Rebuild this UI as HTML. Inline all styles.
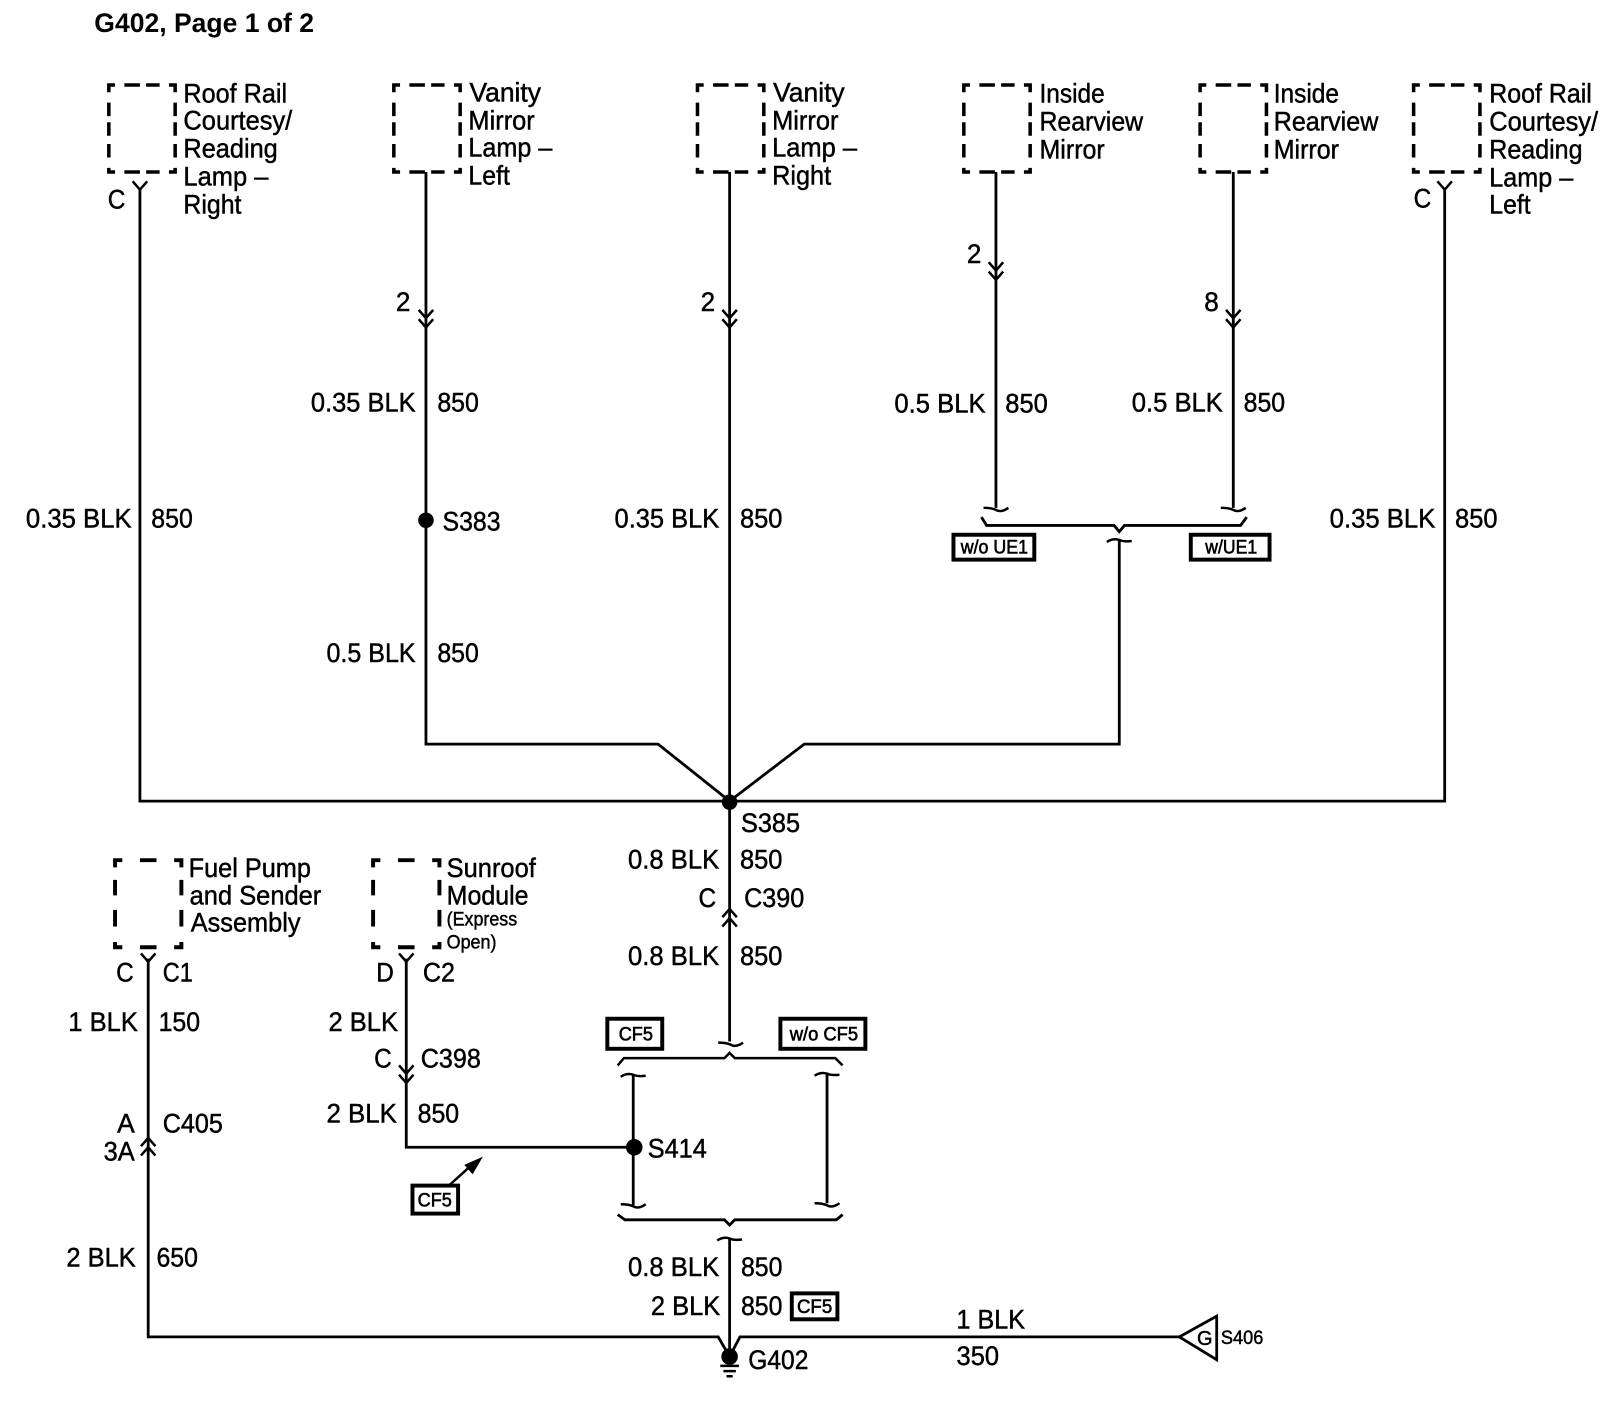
<!DOCTYPE html>
<html><head><meta charset="utf-8"><style>
html,body{margin:0;padding:0;background:#fff;width:1624px;height:1408px;overflow:hidden}
svg{display:block}
text{font-family:"Liberation Sans",sans-serif;font-size:26px;fill:#000;stroke:#000;stroke-width:.45}
.s{font-size:19px}
.t{font-size:19px;stroke-width:.6}
.w{fill:none;stroke:#000;stroke-width:2.7}
.f{fill:none;stroke:#000;stroke-width:2.4}
.b{fill:#fff;stroke:#000;stroke-width:3.8}
</style></head><body>
<svg width="1624" height="1408" viewBox="0 0 1567 1358.6" xmlns="http://www.w3.org/2000/svg">
<defs>
<g id="box" style="stroke-width:3.4;fill:none;stroke:#000">
<path d="M0,7V0H6M15,0H30M36,0H49M58,0H64V7M0,17V30M0,36V49M0,57V70M0,80V84H6M15,84H30M36,84H49M58,84H64V80M64,17V30M64,36V49M64,57V70"/>
</g>
<g id="box2" style="stroke-width:3.8;fill:none;stroke:#000">
<path d="M0,7V0H7M24,0H40M57,0H64V7M0,19V34M0,48V64M0,79V84H7M24,84H40M57,84H64V79M64,19V34M64,48V64"/>
</g>
<path id="dn" class="f" d="M-7,-17L0,-9L7,-17M-7,-8L0,0L7,-8"/>
<path id="up" class="f" d="M-7,17L0,9L7,17M-7,8L0,0L7,8"/>
<path id="y" class="f" d="M-7,-8L0,0L7,-8"/>
<path id="tl" class="f" d="M-12,-1Q-4,-1 0,1Q5,4 12,-1"/>
<path id="tt" class="f" d="M-12,2Q-6,-2 0,0Q4,2 12,1"/>
</defs>

<text x="91" y="31" textLength="212" lengthAdjust="spacingAndGlyphs" style="font-weight:bold;font-size:25.6px;stroke:none">G402, Page 1 of 2</text>

<!-- boxes -->
<use href="#box" x="105" y="82"/><use href="#box" x="380" y="82"/><use href="#box" x="673" y="82"/>
<use href="#box" x="930" y="82"/><use href="#box" x="1158" y="82"/><use href="#box" x="1364" y="82"/>
<use href="#box2" x="111" y="830"/><use href="#box2" x="360" y="830"/>

<!-- wires -->
<path class="w" d="M135,182V773H1394V182"/>
<path class="w" d="M411,166V718H635L704,773"/>
<path class="w" d="M704,166V1005"/>
<path class="w" d="M961,166V490M1190,166V490"/>
<path class="w" d="M1080,520V718H776L704,773"/>
<path class="w" d="M143,925V1290H693L704,1309L714,1290H1138"/>
<path class="w" d="M704,1195V1309"/>
<path class="w" d="M392,925V1107H612"/>
<path class="w" d="M611,1037V1163M798,1035V1161"/>
<path class="f" d="M432,1145L452,1127"/>
<path d="M466,1116L448,1124L456,1133Z"/>

<!-- connectors -->
<use href="#y" x="135" y="183"/><use href="#y" x="1394" y="183"/>
<use href="#y" x="143" y="928"/><use href="#y" x="392" y="928"/>
<use href="#dn" x="411" y="316"/><use href="#dn" x="704" y="316"/>
<use href="#dn" x="961" y="270"/><use href="#dn" x="1190" y="316"/>
<use href="#dn" x="392" y="1045"/>
<use href="#up" x="704" y="877"/><use href="#up" x="143" y="1098"/>

<!-- brackets -->
<use href="#tl" x="961" y="491"/><use href="#tl" x="1190" y="491"/>
<path class="w" d="M947,499L952,507H1075L1080,513L1085,507H1197L1203,499"/>
<use href="#tt" x="1080" y="521"/>
<use href="#tl" x="705" y="1007"/>
<path class="f" d="M596,1028L602,1021H699L704,1016L709,1021H806L813,1028"/>
<use href="#tt" x="611" y="1037"/><use href="#tt" x="798" y="1036"/>
<use href="#tl" x="611" y="1163"/><use href="#tl" x="798" y="1162"/>
<path class="w" d="M596,1172L603,1177H699L704,1182L709,1177H807L813,1172"/>
<use href="#tt" x="704" y="1195"/>

<!-- dots -->
<circle cx="411" cy="502" r="7.5"/><circle cx="704" cy="774" r="7.5"/>
<circle cx="612" cy="1107" r="8"/><circle cx="704" cy="1309" r="8"/>
<path class="f" d="M695,1318H713M698,1323H710M701,1328H707"/>
<path class="w" d="M1138,1290L1174,1270V1312Z" style="fill:#fff"/>

<!-- tags -->
<rect class="b" x="920" y="516" width="78" height="24"/>
<rect class="b" x="1149" y="516" width="76" height="24"/>
<rect class="b" x="586" y="983" width="53" height="29"/>
<rect class="b" x="753" y="983" width="82" height="29"/>
<rect class="b" x="398" y="1144" width="44" height="27"/>
<rect class="b" x="764" y="1248" width="44" height="25"/>

<text class="t" x="927" y="534" textLength="65" lengthAdjust="spacingAndGlyphs">w/o UE1</text>
<text class="t" x="1163" y="534" textLength="50" lengthAdjust="spacingAndGlyphs">w/UE1</text>
<text class="t" x="597" y="1004" textLength="33" lengthAdjust="spacingAndGlyphs">CF5</text>
<text class="t" x="762" y="1004" textLength="66" lengthAdjust="spacingAndGlyphs">w/o CF5</text>
<text class="t" x="403" y="1164" textLength="33" lengthAdjust="spacingAndGlyphs">CF5</text>
<text class="t" x="769" y="1267" textLength="34" lengthAdjust="spacingAndGlyphs">CF5</text>

<!-- component labels -->
<text x="177" y="99" textLength="100" lengthAdjust="spacingAndGlyphs">Roof Rail</text>
<text x="177" y="125" textLength="105" lengthAdjust="spacingAndGlyphs">Courtesy/</text>
<text x="177" y="152" textLength="91" lengthAdjust="spacingAndGlyphs">Reading</text>
<text x="177" y="179" textLength="82" lengthAdjust="spacingAndGlyphs">Lamp –</text>
<text x="177" y="206" textLength="56" lengthAdjust="spacingAndGlyphs">Right</text>
<text x="104" y="201" textLength="17" lengthAdjust="spacingAndGlyphs">C</text>

<text x="453" y="98" textLength="69" lengthAdjust="spacingAndGlyphs">Vanity</text>
<text x="452" y="125" textLength="64" lengthAdjust="spacingAndGlyphs">Mirror</text>
<text x="452" y="151" textLength="81" lengthAdjust="spacingAndGlyphs">Lamp –</text>
<text x="452" y="178" textLength="40" lengthAdjust="spacingAndGlyphs">Left</text>

<text x="746" y="98" textLength="69" lengthAdjust="spacingAndGlyphs">Vanity</text>
<text x="745" y="125" textLength="64" lengthAdjust="spacingAndGlyphs">Mirror</text>
<text x="745" y="151" textLength="82" lengthAdjust="spacingAndGlyphs">Lamp –</text>
<text x="745" y="178" textLength="57" lengthAdjust="spacingAndGlyphs">Right</text>

<text x="1003" y="99" textLength="63" lengthAdjust="spacingAndGlyphs">Inside</text>
<text x="1003" y="126" textLength="100" lengthAdjust="spacingAndGlyphs">Rearview</text>
<text x="1003" y="153" textLength="63" lengthAdjust="spacingAndGlyphs">Mirror</text>

<text x="1229" y="99" textLength="63" lengthAdjust="spacingAndGlyphs">Inside</text>
<text x="1229" y="126" textLength="101" lengthAdjust="spacingAndGlyphs">Rearview</text>
<text x="1229" y="153" textLength="63" lengthAdjust="spacingAndGlyphs">Mirror</text>

<text x="1437" y="99" textLength="99" lengthAdjust="spacingAndGlyphs">Roof Rail</text>
<text x="1437" y="126" textLength="105" lengthAdjust="spacingAndGlyphs">Courtesy/</text>
<text x="1437" y="153" textLength="90" lengthAdjust="spacingAndGlyphs">Reading</text>
<text x="1437" y="180" textLength="81" lengthAdjust="spacingAndGlyphs">Lamp –</text>
<text x="1437" y="206" textLength="40" lengthAdjust="spacingAndGlyphs">Left</text>
<text x="1364" y="200" textLength="17" lengthAdjust="spacingAndGlyphs">C</text>

<text x="382" y="300" textLength="14" lengthAdjust="spacingAndGlyphs">2</text>
<text x="676" y="300" textLength="14" lengthAdjust="spacingAndGlyphs">2</text>
<text x="933" y="254" textLength="14" lengthAdjust="spacingAndGlyphs">2</text>
<text x="1162" y="300" textLength="14" lengthAdjust="spacingAndGlyphs">8</text>

<!-- wire labels -->
<text x="300" y="397" textLength="101" lengthAdjust="spacingAndGlyphs">0.35 BLK</text>
<text x="422" y="397" textLength="40" lengthAdjust="spacingAndGlyphs">850</text>
<text x="427" y="512" textLength="56" lengthAdjust="spacingAndGlyphs">S383</text>
<text x="315" y="639" textLength="86" lengthAdjust="spacingAndGlyphs">0.5 BLK</text>
<text x="422" y="639" textLength="40" lengthAdjust="spacingAndGlyphs">850</text>
<text x="593" y="509" textLength="101" lengthAdjust="spacingAndGlyphs">0.35 BLK</text>
<text x="714" y="509" textLength="41" lengthAdjust="spacingAndGlyphs">850</text>
<text x="25" y="509" textLength="102" lengthAdjust="spacingAndGlyphs">0.35 BLK</text>
<text x="146" y="509" textLength="40" lengthAdjust="spacingAndGlyphs">850</text>
<text x="863" y="398" textLength="88" lengthAdjust="spacingAndGlyphs">0.5 BLK</text>
<text x="970" y="398" textLength="41" lengthAdjust="spacingAndGlyphs">850</text>
<text x="1092" y="397" textLength="88" lengthAdjust="spacingAndGlyphs">0.5 BLK</text>
<text x="1200" y="397" textLength="40" lengthAdjust="spacingAndGlyphs">850</text>
<text x="1283" y="509" textLength="102" lengthAdjust="spacingAndGlyphs">0.35 BLK</text>
<text x="1404" y="509" textLength="41" lengthAdjust="spacingAndGlyphs">850</text>

<text x="715" y="803" textLength="57" lengthAdjust="spacingAndGlyphs">S385</text>
<text x="606" y="838" textLength="88" lengthAdjust="spacingAndGlyphs">0.8 BLK</text>
<text x="714" y="838" textLength="41" lengthAdjust="spacingAndGlyphs">850</text>
<text x="674" y="875" textLength="17" lengthAdjust="spacingAndGlyphs">C</text>
<text x="718" y="875" textLength="58" lengthAdjust="spacingAndGlyphs">C390</text>
<text x="606" y="931" textLength="88" lengthAdjust="spacingAndGlyphs">0.8 BLK</text>
<text x="714" y="931" textLength="41" lengthAdjust="spacingAndGlyphs">850</text>

<text x="182" y="846" textLength="118" lengthAdjust="spacingAndGlyphs">Fuel Pump</text>
<text x="183" y="873" textLength="127" lengthAdjust="spacingAndGlyphs">and Sender</text>
<text x="184" y="899" textLength="106" lengthAdjust="spacingAndGlyphs">Assembly</text>
<text x="431" y="846" textLength="86" lengthAdjust="spacingAndGlyphs">Sunroof</text>
<text x="431" y="873" textLength="79" lengthAdjust="spacingAndGlyphs">Module</text>
<text class="s" x="431" y="893" textLength="68" lengthAdjust="spacingAndGlyphs">(Express</text>
<text class="s" x="431" y="915" textLength="48" lengthAdjust="spacingAndGlyphs">Open)</text>

<text x="112" y="947" textLength="17" lengthAdjust="spacingAndGlyphs">C</text>
<text x="157" y="947" textLength="29" lengthAdjust="spacingAndGlyphs">C1</text>
<text x="363" y="947" textLength="17" lengthAdjust="spacingAndGlyphs">D</text>
<text x="408" y="947" textLength="31" lengthAdjust="spacingAndGlyphs">C2</text>
<text x="66" y="995" textLength="67" lengthAdjust="spacingAndGlyphs">1 BLK</text>
<text x="153" y="995" textLength="40" lengthAdjust="spacingAndGlyphs">150</text>
<text x="317" y="995" textLength="67" lengthAdjust="spacingAndGlyphs">2 BLK</text>
<text x="361" y="1030" textLength="17" lengthAdjust="spacingAndGlyphs">C</text>
<text x="406" y="1030" textLength="58" lengthAdjust="spacingAndGlyphs">C398</text>
<text x="315" y="1083" textLength="68" lengthAdjust="spacingAndGlyphs">2 BLK</text>
<text x="403" y="1083" textLength="40" lengthAdjust="spacingAndGlyphs">850</text>
<text x="113" y="1093" textLength="17" lengthAdjust="spacingAndGlyphs">A</text>
<text x="157" y="1093" textLength="58" lengthAdjust="spacingAndGlyphs">C405</text>
<text x="100" y="1120" textLength="30" lengthAdjust="spacingAndGlyphs">3A</text>
<text x="64" y="1222" textLength="67" lengthAdjust="spacingAndGlyphs">2 BLK</text>
<text x="151" y="1222" textLength="40" lengthAdjust="spacingAndGlyphs">650</text>

<text x="625" y="1117" textLength="57" lengthAdjust="spacingAndGlyphs">S414</text>
<text x="606" y="1231" textLength="88" lengthAdjust="spacingAndGlyphs">0.8 BLK</text>
<text x="715" y="1231" textLength="40" lengthAdjust="spacingAndGlyphs">850</text>
<text x="628" y="1269" textLength="67" lengthAdjust="spacingAndGlyphs">2 BLK</text>
<text x="715" y="1269" textLength="40" lengthAdjust="spacingAndGlyphs">850</text>
<text x="722" y="1321" textLength="58" lengthAdjust="spacingAndGlyphs">G402</text>
<text x="923" y="1282" textLength="66" lengthAdjust="spacingAndGlyphs">1 BLK</text>
<text x="923" y="1317" textLength="41" lengthAdjust="spacingAndGlyphs">350</text>
<text x="1155" y="1298" style="font-size:20px" textLength="15" lengthAdjust="spacingAndGlyphs">G</text>
<text class="s" x="1178" y="1297" textLength="41" lengthAdjust="spacingAndGlyphs">S406</text>
</svg>
</body></html>
